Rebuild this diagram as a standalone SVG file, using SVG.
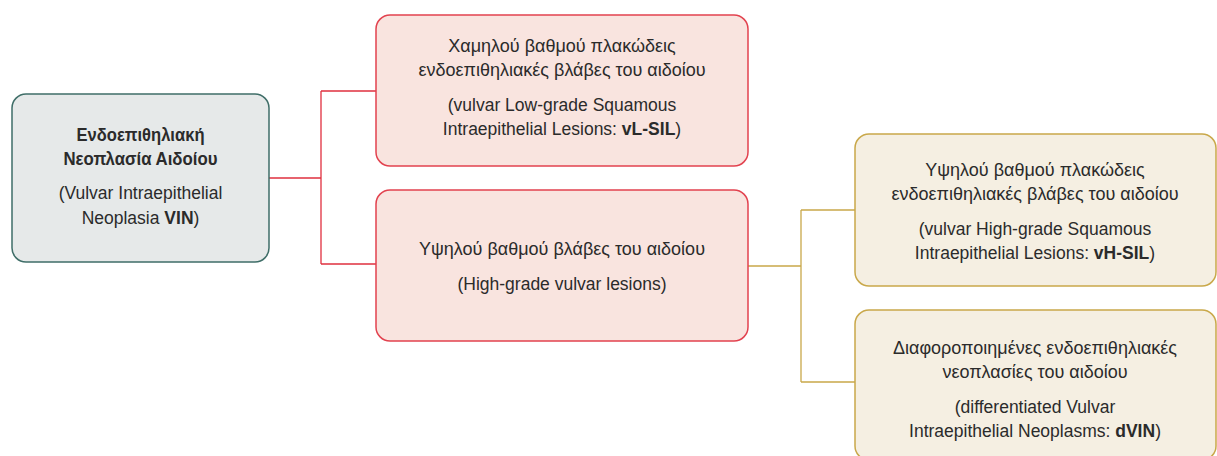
<svg xmlns="http://www.w3.org/2000/svg" width="1217" height="456" viewBox="0 0 1217 456">
  <style>
    .t { font-family: "Liberation Sans", Arial, sans-serif; font-size: 18px; fill: #2b2b2b; text-anchor: middle; }
    .l { font-size: 17.5px; }
    .b { font-weight: bold; }
    .root { fill: #e6e9e9; stroke: #3f6e68; stroke-width: 1.5; }
    .red { fill: #f9e4df; stroke: #e2424f; stroke-width: 1.5; }
    .gold { fill: #f5efe2; stroke: #c9a84a; stroke-width: 1.5; }
    .lr { fill: none; stroke: #e0303f; stroke-width: 1.3; }
    .lg { fill: none; stroke: #c9a84a; stroke-width: 1.3; }
  </style>

  <g id="connectors">
    <path class="lr" d="M269 178 H321 M321 91 V264 M321 91 H376 M321 264 H376"/>
    <path class="lg" d="M748 266 H801 M801 210 V382 M801 210 H855 M801 382 H855"/>
  </g>

  <g id="node-vin">
    <rect class="root" x="12" y="94" width="257" height="168" rx="14"/>
    <text class="t b" x="140.5" y="140.5" textLength="128" lengthAdjust="spacingAndGlyphs">Ενδοεπιθηλιακή</text>
    <text class="t b" x="140.5" y="164.5" textLength="154" lengthAdjust="spacingAndGlyphs">Νεοπλασία Αιδοίου</text>
    <text class="t l" x="140.5" y="199">(Vulvar Intraepithelial</text>
    <text class="t l" x="140.5" y="224">Neoplasia <tspan class="b">VIN</tspan>)</text>
  </g>

  <g id="node-vlsil">
    <rect class="red" x="376" y="15" width="372" height="151" rx="14"/>
    <text class="t" x="562" y="51.5">Χαμηλού βαθμού πλακώδεις</text>
    <text class="t" x="562" y="75.5">ενδοεπιθηλιακές βλάβες του αιδοίου</text>
    <text class="t l" x="562" y="110.5">(vulvar Low-grade Squamous</text>
    <text class="t l" x="562" y="134.5">Intraepithelial Lesions: <tspan class="b">vL-SIL</tspan>)</text>
  </g>

  <g id="node-high">
    <rect class="red" x="376" y="190" width="372" height="151" rx="14"/>
    <text class="t" x="562" y="254.5">Υψηλού βαθμού βλάβες του αιδοίου</text>
    <text class="t l" x="562" y="289.5">(High-grade vulvar lesions)</text>
  </g>

  <g id="node-vhsil">
    <rect class="gold" x="855" y="134" width="361" height="152" rx="14"/>
    <text class="t" x="1035" y="175.5">Υψηλού βαθμού πλακώδεις</text>
    <text class="t" x="1035" y="199.5">ενδοεπιθηλιακές βλάβες του αιδοίου</text>
    <text class="t l" x="1035" y="234.5">(vulvar High-grade Squamous</text>
    <text class="t l" x="1035" y="258.5">Intraepithelial Lesions: <tspan class="b">vH-SIL</tspan>)</text>
  </g>

  <g id="node-dvin">
    <rect class="gold" x="855" y="310" width="361" height="150" rx="14"/>
    <text class="t" x="1035" y="353.5">Διαφοροποιημένες ενδοεπιθηλιακές</text>
    <text class="t" x="1035" y="377.5">νεοπλασίες του αιδοίου</text>
    <text class="t l" x="1035" y="412.5">(differentiated Vulvar</text>
    <text class="t l" x="1035" y="436.5">Intraepithelial Neoplasms: <tspan class="b">dVIN</tspan>)</text>
  </g>
</svg>
